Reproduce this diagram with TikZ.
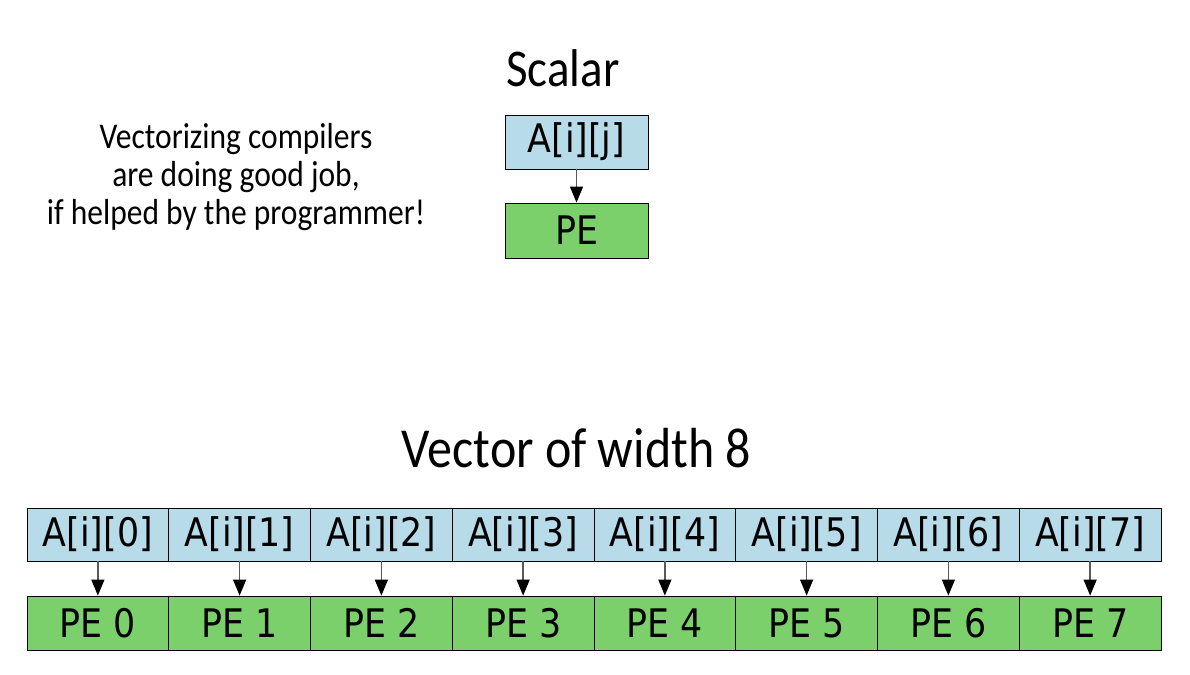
\documentclass[tikz,border=0pt]{standalone}
\usepackage{fontspec}
\usepackage{graphicx}
\setmainfont{DejaVu Sans}
\newfontfamily\calfont{Carlito}
\usetikzlibrary{arrows.meta}
\definecolor{cellblue}{RGB}{183,219,232}
\definecolor{cellgreen}{RGB}{124,208,108}
\newcommand{\vs}[1]{\scalebox{1}[1.13]{#1}}
\begin{document}
\begin{tikzpicture}[x=1pt,y=-1pt,
  cell/.style={draw=black, line width=0.8pt, minimum width=141.75pt, minimum height=53pt, inner sep=0pt, font=\fontsize{34.8}{40}\selectfont},
  acell/.style={cell, fill=cellblue},
  pcell/.style={cell, fill=cellgreen},
  feed/.style={draw=black!65, line width=1.3pt, -{Triangle[length=16pt,width=13pt,color=black]}},
  title/.style={font=\calfont\fontsize{48}{52}\selectfont, inner sep=0pt, anchor=base}]
\useasboundingbox (0,0) rectangle (1190,674);
% Scalar
\node[title, font=\calfont\fontsize{47}{52}\selectfont] (scalar) at (563,87) {\vs{Scalar}};
\node[acell, minimum width=143pt, minimum height=54pt] (as) at (576.5,142) {\vs{A[i][j]}};
\node[pcell, minimum width=143pt, minimum height=55pt] (ps) at (576.5,230.5) {\vs{PE}};
\draw[feed] (as.south) -- (ps.north);
% note
\node[inner sep=0pt] (note) at (236,179) {\scalebox{1}[1.15]{\calfont\fontsize{31.5}{33}\selectfont\begin{tabular}{@{}c@{}}Vectorizing compilers\\are doing good job,\\if helped by the programmer!\end{tabular}}};
% Vector
\node[title, font=\calfont\fontsize{50}{54}\selectfont] (vector) at (576.5,467) {\vs{Vector of width 8}};
\foreach \k in {0,...,7}{
  \node[acell] (a\k) at ({27+141.75*(\k+0.5)},534.5) {\vs{A[i][\k]}};
  \node[pcell, minimum height=54pt] (p\k) at ({27+141.75*(\k+0.5)},623) {\vs{PE \k}};
  \draw[feed] (a\k.south) -- (p\k.north);
}
\end{tikzpicture}
\end{document}
